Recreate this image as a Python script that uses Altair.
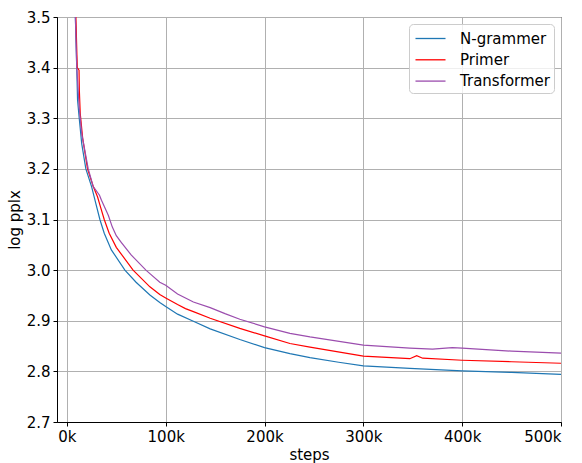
import altair as alt
import pandas as pd

series_names = ["N-grammer", "Primer", "Transformer"]
series_colors = ["#1f77b4", "#ff0000", "#9b4dae"]

ngrammer_steps_k = [7, 8.6, 10, 10.8, 12.5, 15, 19.2, 25, 29, 33.4, 37.8, 45, 58.7, 70, 84, 94, 100,
                    112, 128, 145, 175, 200, 225.7, 246, 275, 300, 347, 400, 450, 500]
ngrammer_vals = [3.75, 3.5, 3.40, 3.336, 3.30, 3.25, 3.20, 3.165, 3.134, 3.10, 3.073, 3.04, 3.0, 2.976, 2.951, 2.936, 2.928,
                 2.913, 2.899, 2.884, 2.863, 2.847, 2.835, 2.827, 2.818, 2.811, 2.806, 2.801, 2.798, 2.794]

primer_steps_k = [7, 9.1, 10.5, 12.3, 12.6, 13.5, 16, 20.9, 26.7, 31, 34, 37.8, 42.8, 50, 67, 84, 94, 100,
                  112, 120, 128, 145, 175, 200, 225.7, 246, 300, 347, 354, 360, 400, 450, 500]
primer_vals = [3.75, 3.5, 3.40, 3.395, 3.356, 3.31, 3.26, 3.20, 3.165, 3.145, 3.125, 3.10, 3.073, 3.045, 3.0, 2.967, 2.952, 2.945,
               2.932, 2.924, 2.918, 2.905, 2.885, 2.870, 2.855, 2.848, 2.830, 2.825, 2.831, 2.826, 2.822, 2.819, 2.816]

transformer_steps_k = [7, 8.6, 10, 12.5, 15, 21.6, 26.7, 33, 35, 38, 42, 46, 50, 55, 65, 80, 84, 94, 100,
                       112, 128, 145, 160, 175, 200, 225.7, 246, 300, 347, 370, 390, 400, 450, 500]
transformer_vals = [3.75, 3.5, 3.40, 3.32, 3.27, 3.20, 3.165, 3.148, 3.138, 3.125, 3.108, 3.085, 3.068, 3.055, 3.03, 3.0, 2.993, 2.976, 2.970,
                    2.953, 2.937, 2.926, 2.914, 2.903, 2.888, 2.875, 2.868, 2.852, 2.846, 2.844, 2.847, 2.846, 2.840, 2.836]

x_ticks = [0, 100000, 200000, 300000, 400000, 500000]
y_ticks = [2.7, 2.8, 2.9, 3.0, 3.1, 3.2, 3.3, 3.4, 3.5]

rows = []
for name, steps, vals in [
    ("N-grammer", ngrammer_steps_k, ngrammer_vals),
    ("Primer", primer_steps_k, primer_vals),
    ("Transformer", transformer_steps_k, transformer_vals),
]:
    for i, (s, v) in enumerate(zip(steps, vals)):
        rows.append({"series": name, "steps": s * 1000, "val": v, "order": i})
df = pd.DataFrame(rows)

FONT = "DejaVu Sans"

chart = alt.Chart(df).mark_line(clip=True, strokeWidth=1.2).encode(
    x=alt.X("steps:Q",
            scale=alt.Scale(domain=[-10000, 500000], nice=False, zero=False),
            axis=alt.Axis(values=x_ticks, labelExpr="datum.value / 1000 + 'k'",
                          title="steps", titlePadding=3)),
    y=alt.Y("val:Q",
            scale=alt.Scale(domain=[2.7, 3.5], nice=False, zero=False),
            axis=alt.Axis(values=y_ticks, format=".1f", title="log pplx", titlePadding=4)),
    color=alt.Color("series:N",
                    scale=alt.Scale(domain=series_names, range=series_colors),
                    legend=alt.Legend(title=None, orient="none", legendX=352, legendY=7,
                                      symbolType="M-1.43,0H1.43", symbolSize=441,
                                      symbolStrokeWidth=1.3, symbolOffset=7, labelOffset=18,
                                      labelFontSize=15, labelFont=FONT, labelColor="black",
                                      rowPadding=1.3, padding=3, cornerRadius=4,
                                      strokeColor="#cccccc", fillColor="rgba(255,255,255,0.8)")),
    order="order:Q",
).properties(
    width=504, height=405,
    autosize=alt.AutoSizeParams(type="none"),
    padding={"left": 57, "top": 17, "right": 21, "bottom": 41},
).configure_view(
    stroke="black", strokeWidth=1
).configure_axis(
    labelFont=FONT, titleFont=FONT, labelFontSize=15, titleFontSize=15,
    labelColor="black", titleColor="black", titleFontWeight="normal",
    grid=True, gridColor="#b0b0b0", gridWidth=1,
    domainColor="black", domainWidth=1,
    tickColor="black", tickSize=4, tickWidth=1, labelPadding=3,
)

chart.save("out.html", embed_options={"renderer": "svg", "actions": False})
